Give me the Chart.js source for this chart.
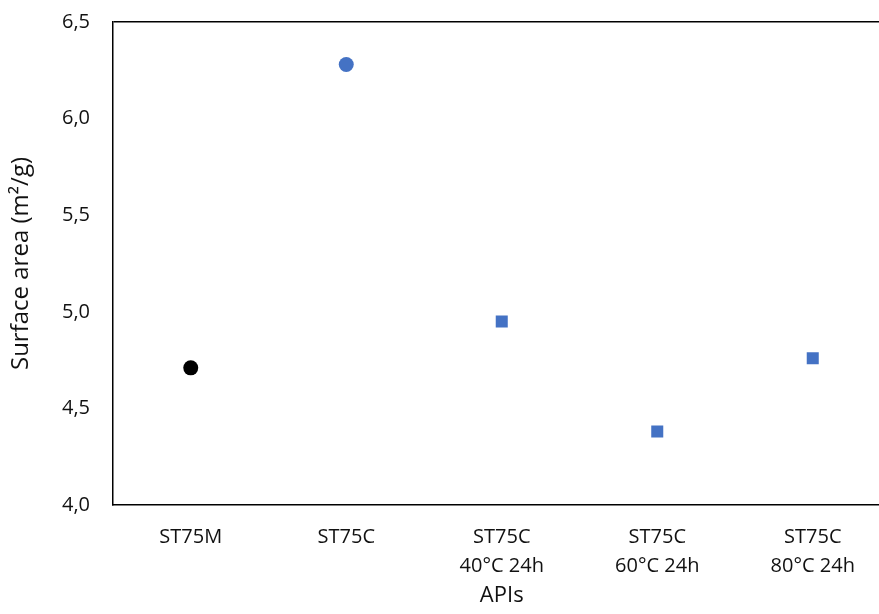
<!DOCTYPE html>
<html>
<head>
<meta charset="utf-8">
<script src="https://cdn.jsdelivr.net/npm/chart.js@4"></script>
<style>
  html, body { margin: 0; padding: 0; background: #fff; overflow: hidden; width: 879px; height: 614px; }
</style>
</head>
<body>
<canvas id="surface" width="899" height="614"></canvas>
<script>
const apiLabels = [
    ['ST75M'],
    ['ST75C'],
    ['ST75C', '40°C 24h'],
    ['ST75C', '60°C 24h'],
    ['ST75C', '80°C 24h']
]
const milledArea = [4.71, null, null, null, null]
const crystalArea = [null, 6.28, null, null, null]
const heatedArea = [null, null, 4.95, 4.38, 4.76]
const yTicks = [4.0, 4.5, 5.0, 5.5, 6.0, 6.5]

const blue = '#4472C4'
const font = 'Open Sans'

// plot box runs a little past the right edge of the picture, like the original
const chart = new Chart(
    document.getElementById('surface'),
    {
        type: 'line',
        data: {
            labels: apiLabels,
            datasets: [{
                label: 'ST75M',
                data: milledArea,
                showLine: false,
                pointStyle: 'circle',
                pointRadius: 7.5,
                backgroundColor: '#000',
                borderColor: '#000',
                borderWidth: 0
            }, {
                label: 'ST75C',
                data: crystalArea,
                showLine: false,
                pointStyle: 'circle',
                pointRadius: 7.5,
                backgroundColor: blue,
                borderColor: blue,
                borderWidth: 0
            }, {
                label: 'ST75C heated',
                data: heatedArea,
                showLine: false,
                pointStyle: 'rect',
                pointRadius: 8.5,
                backgroundColor: blue,
                borderColor: blue,
                borderWidth: 0
            }]
        },
        options: {
            responsive: false,
            animation: false,
            events: [],
            layout: { padding: { top: 22, right: 0, left: 0, bottom: 0 } },
            plugins: {
                legend: { display: false },
                tooltip: { enabled: false }
            },
            scales: {
                x: {
                    offset: true,
                    grid: { color: 'rgba(0,0,0,0)', drawTicks: false },
                    border: { color: '#000', width: 1.5 },
                    ticks: {
                        color: '#111',
                        padding: 18,
                        maxRotation: 0,
                        font: { family: font, size: 20, lineHeight: 1.45 }
                    },
                    title: {
                        display: true,
                        text: 'APIs',
                        color: '#111',
                        padding: { top: 0, bottom: 5 },
                        font: { family: font, size: 22 }
                    },
                    afterFit: s => { s.height = 109 }
                },
                y: {
                    min: 4,
                    max: 6.5,
                    afterBuildTicks: s => { s.ticks = yTicks.map(v => ({ value: v })) },
                    grid: {
                        drawTicks: false,
                        lineWidth: 1.5,
                        color: c => (c.tick && c.tick.value === 6.5) ? '#000' : 'rgba(0,0,0,0)'
                    },
                    border: { color: '#000', width: 1.5 },
                    ticks: {
                        color: '#111',
                        padding: 23,
                        font: { family: font, size: 20 },
                        callback: v => v.toFixed(1).replace('.', ',')
                    },
                    title: {
                        display: true,
                        text: 'Surface area (m²/g)',
                        color: '#111',
                        padding: { top: 7, bottom: 0 },
                        font: { family: font, size: 24 }
                    },
                    afterFit: s => {
                        s.width = 113
                        s.paddingTop = 0
                        s.paddingBottom = 0
                    }
                }
            }
        }
    }
)
</script>
</body>
</html>
